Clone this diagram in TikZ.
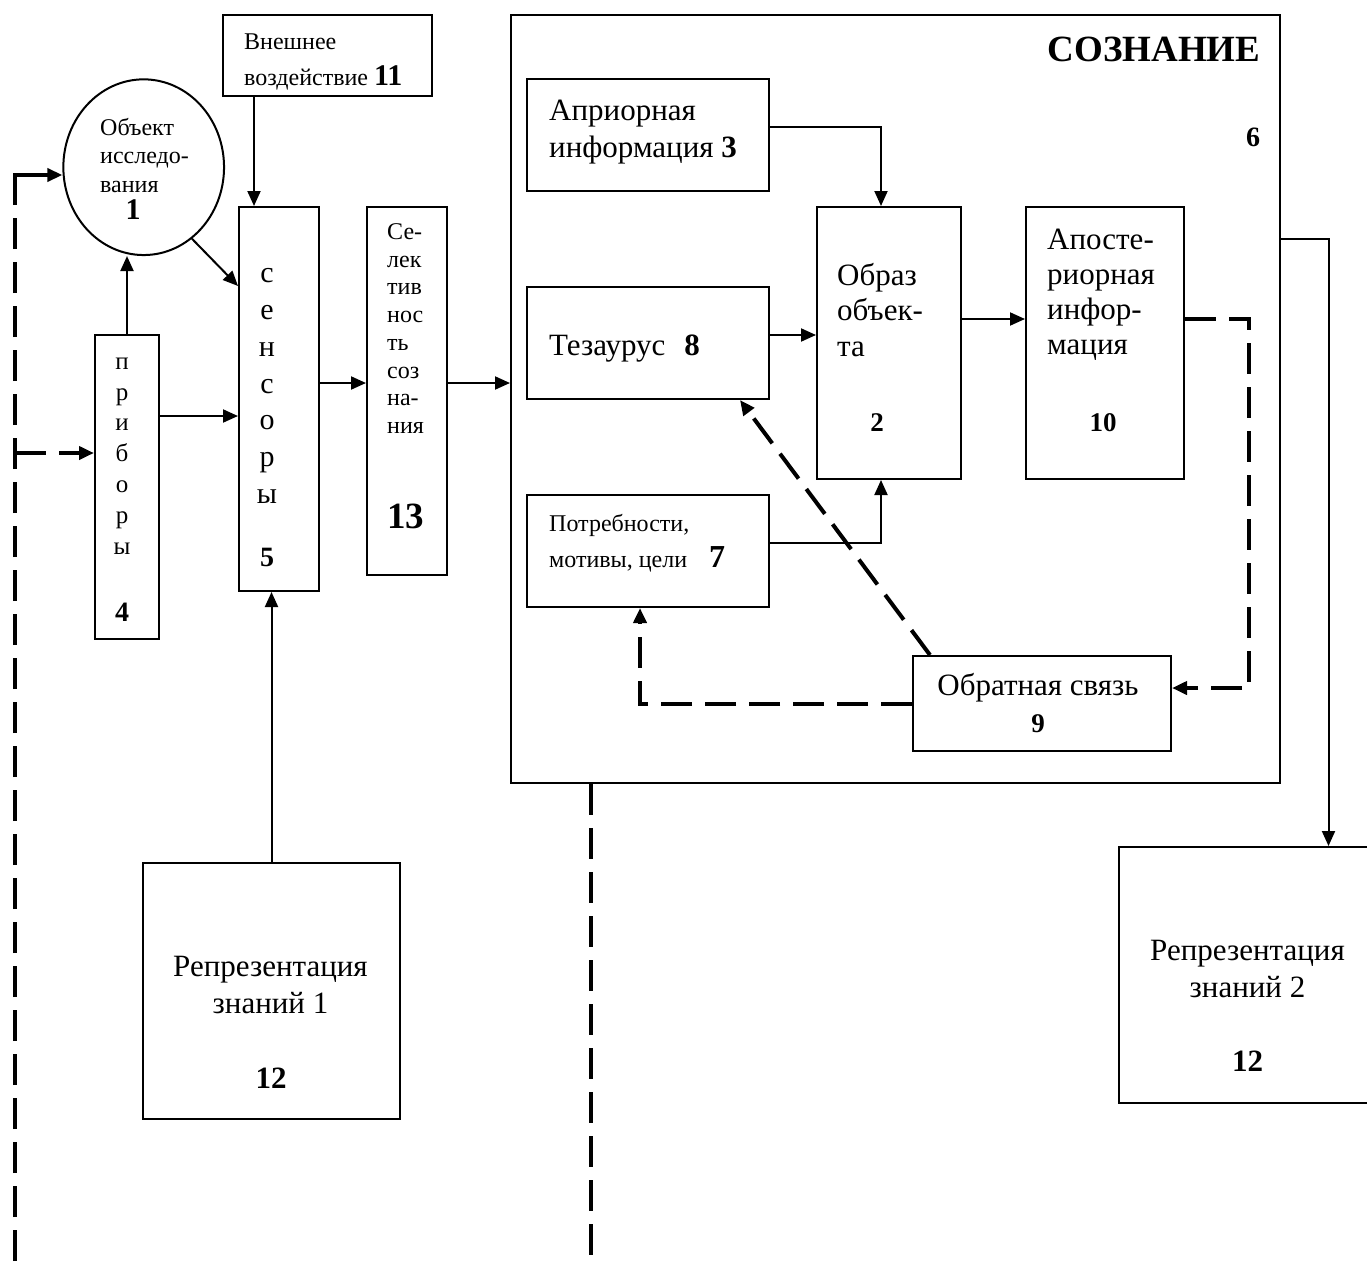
\documentclass[tikz,border=0pt]{standalone}
\usepackage{fontspec}
\setmainfont{Liberation Serif}
\usetikzlibrary{arrows.meta,shapes.geometric}
\newcommand\bnum[1]{\fontsize{#1}{#1}\selectfont\bfseries}
\tikzset{
	box/.style={draw, line width=2pt, inner sep=0pt},
	txt/.style={inner sep=0pt, align=left},
	link/.style={line width=2pt, ->},
	fbline/.style={line width=4pt, dash pattern=on 31pt off 13pt}
}
\begin{document}
\begin{tikzpicture}[x=1pt, y=-1pt, >={Triangle[length=15pt,width=13pt]}]
			\useasboundingbox (0,0) rectangle (1367,1261);
			% Блоки
			\node[box, ellipse, minimum width=160.7pt, minimum height=175.7pt] (obj) at (143.7,167.2) {};
			\node[box, minimum width=209pt, minimum height=81pt] (ext) at (327.5,55.5) {};
			\node[box, minimum width=64pt, minimum height=304pt] (prib) at (127,487) {};
			\node[box, minimum width=80pt, minimum height=384pt] (sens) at (279,399) {};
			\node[box, minimum width=80pt, minimum height=368pt] (sel) at (407,391) {};
			\node[box, minimum width=769pt, minimum height=768pt] (cons) at (895.5,399) {};
			\node[box, minimum width=242pt, minimum height=112pt] (apri) at (648,135) {};
			\node[box, minimum width=242pt, minimum height=112pt] (tez) at (648,343) {};
			\node[box, minimum width=242pt, minimum height=112pt] (potr) at (648,551) {};
			\node[box, minimum width=144pt, minimum height=272pt] (obr) at (889,343) {};
			\node[box, minimum width=158pt, minimum height=272pt] (apost) at (1105,343) {};
			\node[box, minimum width=258pt, minimum height=95pt] (feed) at (1042,703.5) {};
			\node[box, minimum width=257pt, minimum height=256pt] (rep1) at (271.5,991) {};
			\node[box, minimum width=257pt, minimum height=256pt] (rep2) at (1247.5,975) {};
			% Тексты
			\node[txt, anchor=west, font=\fontsize{24}{28.3}\selectfont] (obj-t) at (100,155.5) {Объект\\исследо-\\вания};
			\node[txt, font=\bnum{30}] (obj-n) at (133,210) {1};
			\node[txt, anchor=west, font=\fontsize{24}{35.4}\selectfont] (ext-t) at (244,62) {Внешнее\\воздействие {\bnum{30}11}};
			\node[txt, align=center, font=\fontsize{25}{30.8}\selectfont] (prib-t) at (122,456) {п\\р\\и\\б\\о\\р\\ы};
			\node[txt, font=\bnum{28}] (prib-n) at (122,612.5) {4};
			\node[txt, align=center, font=\fontsize{30}{36.7}\selectfont] (sens-t) at (267,386) {с\\е\\н\\с\\о\\р\\ы};
			\node[txt, font=\bnum{28}] (sens-n) at (267,557.5) {5};
			\node[txt, anchor=west, font=\fontsize{24}{27.7}\selectfont] (sel-t) at (387,328.5) {Се-\\лек\\тив\\нос\\ть\\соз\\на-\\ния};
			\node[txt, font=\bnum{37}] (sel-n) at (405.5,516) {13};
			\node[txt, font=\bnum{37}] (cons-t) at (1154,49.2) {СОЗНАНИЕ};
			\node[txt, font=\bnum{28}] (cons-n) at (1253,137) {6};
			\node[txt, anchor=west, font=\fontsize{31}{37}\selectfont] (apri-t) at (549,132) {Априорная\\информация {\bfseries 3}};
			\node[txt, anchor=west, font=\fontsize{31}{36}\selectfont] (tez-t) at (549,348.3) {Тезаурус\hspace{19pt}{\bfseries 8}};
			\node[txt, anchor=west, font=\fontsize{24}{36.7}\selectfont] (potr-t) at (549,543.2) {Потребности,\\мотивы, цели\hspace{22pt}{\bnum{32}7}};
			\node[txt, anchor=west, font=\fontsize{31}{35.1}\selectfont] (obr-t) at (837,310) {Образ\\объек-\\та};
			\node[txt, font=\bnum{27}] (obr-n) at (877,422.5) {2};
			\node[txt, anchor=west, font=\fontsize{31}{35.1}\selectfont] (apost-t) at (1047,295) {Апосте-\\риорная\\инфор-\\мация};
			\node[txt, font=\bnum{27}] (apost-n) at (1103,422.5) {10};
			\node[txt, font=\fontsize{31}{36}\selectfont] (feed-t) at (1038,687.8) {Обратная связь};
			\node[txt, font=\bnum{27}] (feed-n) at (1038,724) {9};
			\node[txt, align=center, font=\fontsize{31}{36.6}\selectfont] (rep1-t) at (270.5,985) {Репрезентация\\знаний 1};
			\node[txt, font=\bnum{31}] (rep1-n) at (271,1078) {12};
			\node[txt, align=center, font=\fontsize{31}{36.6}\selectfont] (rep2-t) at (1247.5,969) {Репрезентация\\знаний 2};
			\node[txt, font=\bnum{31}] (rep2-n) at (1247.7,1061.5) {12};
			% Связи
			\draw[link] ([xshift=16pt]sens.north west |- ext.south) -- ([xshift=16pt]sens.north west);
			\draw[link] (obj.-56) -- ([yshift=-80pt]sens.north west);
			\draw[link] (prib.north) -- (prib.north |- obj.south);
			\draw[link] ([yshift=71pt]prib.east) -- ([yshift=71pt]prib.east -| sens.west);
			\draw[link] ([yshift=16pt]sens.east) -- ([yshift=16pt]sens.east -| sel.west);
			\draw[link] ([yshift=8pt]sel.east) -- ([yshift=8pt]sel.east -| cons.west);
			\draw[link] (rep1.north) -- (rep1.north |- sens.south);
			\draw[link] ([yshift=8pt]apri.east) -| ([xshift=-8pt]obr.north);
			\draw[link] ([yshift=8pt]tez.east) -- ([yshift=8pt]tez.east -| obr.west);
			\draw[link] ([yshift=24pt]obr.east) -- ([yshift=24pt]obr.east -| apost.west);
			\draw[link] ([yshift=8pt]potr.east) -| ([xshift=-8pt]obr.south);
			\draw[link] ([yshift=160pt]cons.east) -| ([xshift=81pt]rep2.north);
			% Обратные связи (пунктир)
			\draw[fbline, ->] ([yshift=24pt]apost.east) -| ([xshift=77pt,yshift=15.5pt]feed.east) -- ([yshift=15.5pt]feed.east);
			\draw[fbline, ->] ([xshift=18pt]feed.north west) -- ([xshift=92pt]tez.south);
			\draw[fbline, ->] (feed.west) -| ([xshift=-8pt]potr.south);
			\coordinate (lb) at (15,1261);
			\coordinate (lt) at (15,175);
			\draw[fbline] (lb) -- (lt);
			\draw[line width=4pt, line cap=rect, ->] (lt) -- ([yshift=-7.8pt]obj.west);
			\draw[fbline, ->] ([yshift=34pt]prib.west -| lb) -- ([yshift=34pt]prib.west);
			\coordinate (cb) at (591,1261);
			\draw[fbline] (cons.south -| cb) -- (cb);
\end{tikzpicture}
\end{document}
